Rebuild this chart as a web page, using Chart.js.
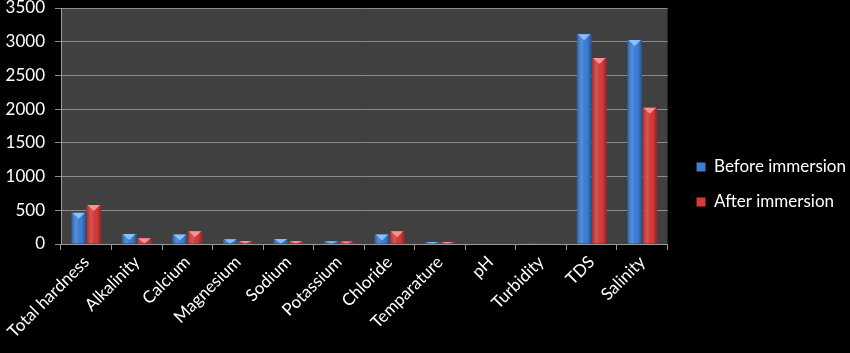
<!DOCTYPE html>
<html>
<head>
<meta charset="utf-8">
<script src="https://cdn.jsdelivr.net/npm/chart.js@4.4.1/dist/chart.umd.min.js"></script>
<style>
  html, body { margin: 0; padding: 0; background: #000; }
  #wrap { width: 850px; height: 353px; position: relative; }
</style>
</head>
<body>
<div id="wrap"><canvas id="c" width="850" height="353"></canvas></div>
<script>
const categories = ["Total hardness", "Alkalinity", "Calcium", "Magnesium", "Sodium", "Potassium", "Chloride", "Temparature", "pH", "Turbidity", "TDS", "Salinity"];
const beforeImmersion = [465, 150, 140, 70, 75, 40, 140, 30, 7, 5, 3110, 3025];
const afterImmersion = [578, 85, 190, 45, 45, 38, 190, 28, 7, 3, 2760, 2020];
const yTicks = [0, 500, 1000, 1500, 2000, 2500, 3000, 3500];

const FONT = "Lato, 'Open Sans', sans-serif";

const plotBg = {
  id: 'plotBg',
  beforeDraw(chart) {
    const { ctx, chartArea: a } = chart;
    ctx.save();
    ctx.fillStyle = '#000';
    ctx.fillRect(0, 0, chart.width, chart.height);
    ctx.fillStyle = '#404040';
    ctx.fillRect(a.left, a.top, a.right - a.left, a.bottom - a.top);
    ctx.restore();
  }
};

const legendShift = {
  id: 'legendShift',
  afterLayout(chart) {
    const lg = chart.legend;
    if (!lg) return;
    const dx = 11, dy = 4;
    lg.left += dx; lg.right += dx;
    lg.top += dy; lg.bottom += dy;
    if (lg.legendHitBoxes) lg.legendHitBoxes.forEach(b => { b.left += dx; b.top += dy; });
  }
};

const barShade = {
  id: 'barShade',
  afterDatasetsDraw(chart) {
    const ctx = chart.ctx;
    const caps = ['rgba(140,195,255,0.95)', 'rgba(255,150,150,0.95)'];
    chart.data.datasets.forEach((ds, di) => {
      const meta = chart.getDatasetMeta(di);
      meta.data.forEach(bar => {
        const w = bar.width, x0 = bar.x - w / 2, top = bar.y, h = bar.base - bar.y;
        if (h <= 0) return;
        ctx.save();
        const g = ctx.createLinearGradient(x0, 0, x0 + w, 0);
        g.addColorStop(0, 'rgba(0,0,0,0.25)');
        g.addColorStop(0.35, 'rgba(255,255,255,0.12)');
        g.addColorStop(0.7, 'rgba(0,0,0,0.0)');
        g.addColorStop(1, 'rgba(0,0,0,0.35)');
        ctx.fillStyle = g;
        ctx.fillRect(x0, top, w, h);
        const ch = Math.min(6, h);
        ctx.fillStyle = caps[di];
        ctx.beginPath();
        ctx.moveTo(x0 + 1, top);
        ctx.lineTo(x0 + w - 1, top);
        ctx.lineTo(bar.x, top + ch);
        ctx.closePath();
        ctx.fill();
        ctx.restore();
      });
    });
  }
};

new Chart(document.getElementById('c'), {
  type: 'bar',
  data: {
    labels: categories,
    datasets: [
      { label: 'Before immersion', data: beforeImmersion, backgroundColor: '#3c7ed6', borderWidth: 0 },
      { label: 'After immersion', data: afterImmersion, backgroundColor: '#d63a3a', borderWidth: 0 }
    ]
  },
  options: {
    responsive: false,
    animation: false,
    devicePixelRatio: 1,
    layout: { padding: { top: 8, right: 5, left: 0, bottom: 0 } },
    datasets: { bar: { categoryPercentage: 0.6, barPercentage: 0.96 } },
    plugins: {
      legend: {
        position: 'right',
        labels: {
          color: '#ffffff',
          font: { family: FONT, size: 17 },
          boxWidth: 9,
          boxHeight: 9,
          padding: 18
        }
      },
      tooltip: { enabled: false }
    },
    scales: {
      x: {
        offset: true,
        grid: { display: true, offset: true, drawOnChartArea: false, drawTicks: true, tickLength: 6, color: '#9a9a9a' },
        border: { color: '#9a9a9a' },
        ticks: { color: '#ffffff', font: { family: FONT, size: 17 }, maxRotation: 45, minRotation: 45, padding: 2, autoSkip: false },
        afterFit(s) { s.height = 109; }
      },
      y: {
        min: 0, max: 3500,
        afterBuildTicks(s) { s.ticks = yTicks.map(v => ({ value: v })); },
        grid: { color: '#8c8c8c', tickLength: 6, drawTicks: true },
        border: { color: '#9a9a9a' },
        ticks: { color: '#ffffff', font: { family: FONT, size: 17 }, padding: 10, callback: v => String(v) },
        afterFit(s) { s.width = 61; s.paddingTop = 0; s.paddingBottom = 0; }
      }
    }
  },
  plugins: [plotBg, legendShift, barShade]
});
</script>
</body>
</html>
